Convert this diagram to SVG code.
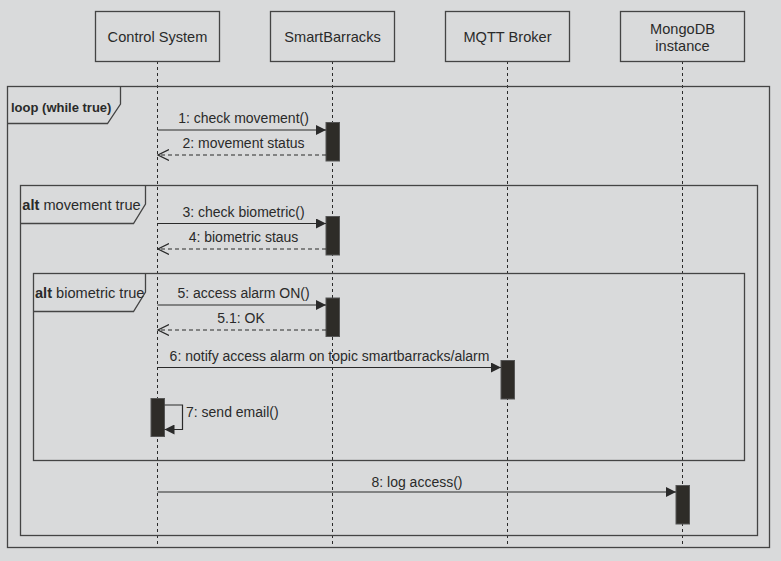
<svg xmlns="http://www.w3.org/2000/svg" width="781" height="561" viewBox="0 0 781 561">
<defs>
<style>
.bg{fill:#d9dadb}
.part rect{fill:#d9dadb;stroke:#444;stroke-width:1.3}
.part text{font-family:"Liberation Sans",Arial,sans-serif;font-size:14.6px;fill:#2a2a2a;text-anchor:middle}
.life{stroke:#2a2a2a;stroke-width:1;stroke-dasharray:3,3;fill:none}
.frame{fill:none;stroke:#444;stroke-width:1.3}
.ftxt{font-family:"Liberation Sans",Arial,sans-serif;font-size:14.6px;fill:#2a2a2a}
.loopt{font-family:"Liberation Sans",Arial,sans-serif;font-size:13px;font-weight:bold;fill:#2a2a2a}
.act{fill:#2e2c28;stroke:#555;stroke-width:1}
.msg{stroke:#2a2a2a;stroke-width:1.2;fill:none}
.ret{stroke:#2a2a2a;stroke-width:1.2;fill:none;stroke-dasharray:4,3}
.lbl{font-family:"Liberation Sans",Arial,sans-serif;font-size:14px;fill:#2a2a2a;text-anchor:middle}
</style>
<marker id="filled" markerWidth="11" markerHeight="10" refX="10" refY="5" orient="auto" markerUnits="userSpaceOnUse">
<path d="M0,0 L10,5 L0,10 Z" fill="#2a2a2a"/>
</marker>
<marker id="open" markerWidth="12" markerHeight="12" refX="11" refY="6" orient="auto" markerUnits="userSpaceOnUse">
<path d="M0,0.5 L11,6 L0,11.5" fill="none" stroke="#2a2a2a" stroke-width="1.2"/>
</marker>
</defs>
<rect class="bg" x="0" y="0" width="781" height="561"/>

<g id="lifelines">
<line class="life" x1="157.5" y1="61" x2="157.5" y2="547"/>
<line class="life" x1="332.5" y1="61" x2="332.5" y2="547"/>
<line class="life" x1="507.5" y1="61" x2="507.5" y2="547"/>
<line class="life" x1="682.5" y1="61" x2="682.5" y2="547"/>
</g>

<g id="control-system" class="part">
<rect x="95.5" y="11.5" width="124" height="50"/>
<text x="157.5" y="41.7">Control System</text>
</g>
<g id="smartbarracks" class="part">
<rect x="270.5" y="11.5" width="124" height="50"/>
<text x="332.5" y="41.7">SmartBarracks</text>
</g>
<g id="mqtt-broker" class="part">
<rect x="445.5" y="11.5" width="124" height="50"/>
<text x="507.5" y="41.7">MQTT Broker</text>
</g>
<g id="mongodb" class="part">
<rect x="620.5" y="11.5" width="124" height="50"/>
<text x="682.5" y="33.5">MongoDB</text>
<text x="682.5" y="51">instance</text>
</g>

<g id="loop-frame">
<rect class="frame" x="7.5" y="86.5" width="762" height="461"/>
<path class="frame" d="M7.5,123.5 L107.5,123.5 L120.5,104 L120.5,86.5"/>
<text class="loopt" x="11" y="111.5">loop (while true)</text>
</g>
<g id="alt-movement">
<rect class="frame" x="20.5" y="185.5" width="737" height="350"/>
<path class="frame" d="M20.5,223.5 L133.5,223.5 L145.5,204 L145.5,185.5"/>
<text class="ftxt" x="22.3" y="210"><tspan font-weight="bold">alt</tspan> movement true</text>
</g>
<g id="alt-biometric">
<rect class="frame" x="33.5" y="273.5" width="711" height="187"/>
<path class="frame" d="M33.5,311.5 L133.5,311.5 L145.5,292 L145.5,273.5"/>
<text class="ftxt" x="35" y="298.3"><tspan font-weight="bold">alt</tspan> biometric true</text>
</g>

<g id="activations">
<rect class="act" x="326" y="122.5" width="13.5" height="38.5"/>
<rect class="act" x="326" y="216.5" width="13.5" height="38.5"/>
<rect class="act" x="326" y="298" width="13.5" height="38.5"/>
<rect class="act" x="501" y="360.5" width="13.5" height="38.5"/>
<rect class="act" x="151" y="398.5" width="13.5" height="38"/>
<rect class="act" x="676" y="485.5" width="13.5" height="38.5"/>
</g>

<g id="connectors">
<line class="msg" x1="157.5" y1="130" x2="326" y2="130" marker-end="url(#filled)"/>
<line class="ret" x1="326" y1="155" x2="158" y2="155" marker-end="url(#open)"/>
<line class="msg" x1="157.5" y1="223.5" x2="326" y2="223.5" marker-end="url(#filled)"/>
<line class="ret" x1="326" y1="249" x2="158" y2="249" marker-end="url(#open)"/>
<line class="msg" x1="157.5" y1="305" x2="326" y2="305" marker-end="url(#filled)"/>
<line class="ret" x1="326" y1="330" x2="158" y2="330" marker-end="url(#open)"/>
<line class="msg" x1="157.5" y1="367.5" x2="501" y2="367.5" marker-end="url(#filled)"/>
<polyline class="msg" points="164.5,405 182.5,405 182.5,429.5 164.5,429.5" marker-end="url(#filled)"/>
<line class="msg" x1="157.5" y1="492" x2="676" y2="492" marker-end="url(#filled)"/>
</g>

<g id="labels">
<text class="lbl" x="243.5" y="123">1: check movement()</text>
<text class="lbl" x="243.5" y="148">2: movement status</text>
<text class="lbl" x="243.5" y="217">3: check biometric()</text>
<text class="lbl" x="243.5" y="241.7">4: biometric staus</text>
<text class="lbl" x="243.5" y="298">5: access alarm ON()</text>
<text class="lbl" x="241" y="322.7">5.1: OK</text>
<text class="lbl" x="329.5" y="361">6: notify access alarm on topic smartbarracks/alarm</text>
<text class="lbl" x="186" y="416.7" text-anchor="start" style="text-anchor:start">7: send email()</text>
<text class="lbl" x="417" y="486.7">8: log access()</text>
</g>
</svg>
